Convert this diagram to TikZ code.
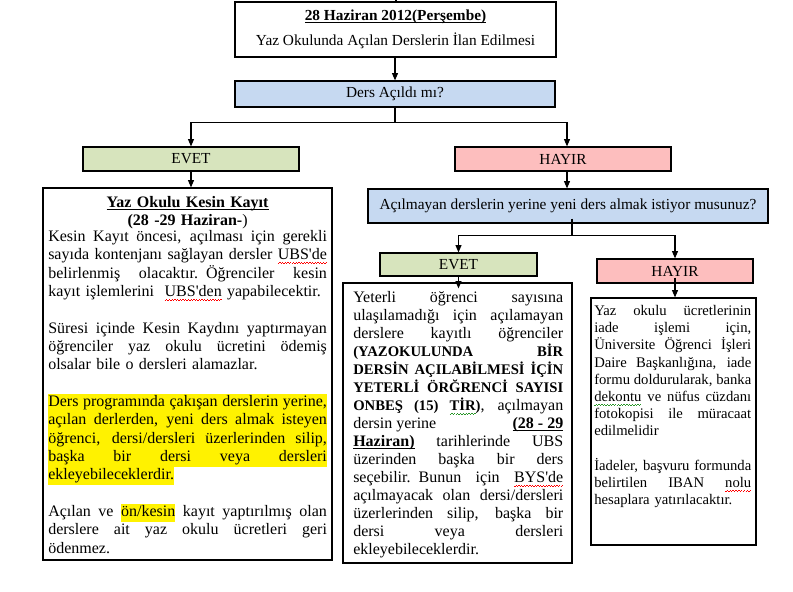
\documentclass[tikz,border=0pt]{standalone}
\usepackage{fontspec}
\setmainfont{Liberation Serif}[Ligatures=TeXOff]
\usetikzlibrary{arrows.meta}
\definecolor{boxblue}{RGB}{198,217,241}
\definecolor{boxgreen}{RGB}{215,228,189}
\definecolor{boxpink}{RGB}{253,190,190}
\definecolor{wavegreen}{RGB}{40,150,40}
\setlength{\parindent}{0pt}
\setlength{\parskip}{0pt}
\setlength{\fboxsep}{0pt}
\newsavebox{\wavetmp}
\newcommand\wavy[2]{\leavevmode\sbox{\wavetmp}{#2}%
  \rlap{\hbox to\wd\wavetmp{\color{#1}\xleaders\hbox{\rule[-2.9pt]{1pt}{0.55pt}\rule[-2.35pt]{1pt}{0.55pt}}\hfil}}\usebox{\wavetmp}}
\newcommand\redwave[1]{\wavy{red}{#1}}
\newcommand\greenwave[1]{\wavy{wavegreen}{#1}}
\newcommand\ul[1]{\leavevmode\sbox{\wavetmp}{#1}\rlap{\rule[-1.7pt]{\wd\wavetmp}{0.65pt}}\usebox{\wavetmp}}
\newcommand\jsp{\spaceskip=0.25em plus 1fil minus 0.06em\relax}
\newcommand\J[1]{{\jsp\makebox[\hsize][s]{#1}}\par}
\newcommand\E[1]{#1\par}
\newcommand\C[1]{\makebox[\hsize][c]{#1}\par}
\newcommand\HJ[1]{{\jsp\colorbox{yellow}{\makebox[\hsize][s]{\strut#1}}}\par}
\newcommand\HL[1]{\colorbox{yellow}{\strut#1}}
\newcommand\smb[1]{{\fontsize{11}{13.5}\selectfont\textbf{#1}}}
\begin{document}
\begin{tikzpicture}[x=0.75pt,y=-0.75pt,
  box/.style={draw=black,line width=0.9pt,inner sep=0pt,anchor=center},
  lbl/.style={box,font=\fontsize{11.5}{13}\selectfont},
  conn/.style={line width=0.8pt},
  arr/.style={conn,-{Triangle[length=5.5pt,width=4.5pt]}},
  body/.style={anchor=north west,inner sep=0pt}]
\fill[white] (0,0) rectangle (793,592);
\useasboundingbox (0,0) rectangle (793,592);

% boxes
\node[box,minimum width=240.75pt,minimum height=41.25pt,align=center,
      font=\fontsize{11.5}{18.75}\selectfont] (title) at (395.5,29.5)
  {\textbf{\ul{28 Haziran 2012(Perşembe)}}\\Yaz Okulunda Açılan Derslerin İlan Edilmesi};
\node[lbl,fill=boxblue,minimum width=240pt,minimum height=19.5pt] (ders) at (395,94) {Ders Açıldı mı?};
\node[lbl,fill=boxgreen,minimum width=162pt,minimum height=18pt] (evet1) at (191,159) {EVET};
\node[lbl,fill=boxpink,minimum width=162pt,minimum height=18pt] (hayir1) at (563,159) {HAYIR};
\node[box,minimum width=216.75pt,minimum height=279pt] (leftbox) at (187.5,374) {};
\node[lbl,fill=boxblue,minimum width=300pt,minimum height=25.5pt] (acil) at (568,206)
  {Açılmayan derslerin yerine yeni ders almak istiyor musunuz?};
\node[lbl,fill=boxgreen,minimum width=117.75pt,minimum height=17.25pt] (evet2) at (458.5,264.5) {EVET};
\node[lbl,fill=boxpink,minimum width=117pt,minimum height=18pt] (hayir2) at (675,271) {HAYIR};
\node[box,minimum width=171.75pt,minimum height=210pt] (midbox) at (457.5,423) {};
\node[box,minimum width=123.75pt,minimum height=185.25pt] (rightbox) at (673.5,421.5) {};

% texts
\node[body,text width=209pt,font=\fontsize{12}{13.75}\selectfont] (lefttext) at (48,196.5) {%
\C{\textbf{\ul{Yaz Okulu Kesin Kayıt}}}\vspace{-0.8pt}
\C{\textbf{(28 -29 Haziran-})}\vspace{-1.4pt}
\J{Kesin Kayıt öncesi, açılması için gerekli}
\J{sayıda kontenjanı sağlayan dersler \redwave{UBS'de}}
\J{belirlenmiş olacaktır. Öğrenciler kesin}
\E{kayıt işlemlerini\ \ \redwave{UBS'den} yapabilecektir.}
\E{\mbox{}}
\J{Süresi içinde Kesin Kaydını yaptırmayan}
\J{öğrenciler yaz okulu ücretini ödemiş}
\E{olsalar bile o dersleri alamazlar.}
\E{\mbox{}}
\HJ{Ders programında çakışan derslerin yerine,}
\HJ{açılan derlerden, yeni ders almak isteyen}
\HJ{öğrenci, dersi/dersleri üzerlerinden silip,}
\HJ{başka bir dersi veya dersleri}
\E{\HL{ekleyebileceklerdir.}}
\E{\mbox{}}
\J{Açılan ve \HL{ön/kesin} kayıt yaptırılmış olan}
\J{derslere ait yaz okulu ücretleri geri}
\E{ödenmez.}};

\node[body,text width=157.5pt,font=\fontsize{12}{13.5}\selectfont] (midtext) at (353,291) {%
\J{Yeterli öğrenci sayısına}
\J{ulaşılamadığı için açılamayan}
\J{derslere kayıtlı öğrenciler}
\J{\smb{(YAZOKULUNDA BİR}}
\J{\smb{DERSİN AÇILABİLMESİ İÇİN}}
\J{\smb{YETERLİ ÖRĞRENCİ SAYISI}}
\J{\smb{ONBEŞ (15) \greenwave{TİR})}, açılmayan}
\J{dersin yerine\hskip 0pt plus 1fill\textbf{\ul{(28 - 29}}}
\J{\textbf{\ul{Haziran)}} tarihlerinde UBS}
\J{üzerinden başka bir ders}
\J{seçebilir. Bunun için \redwave{BYS'de}}
\J{açılmayacak olan dersi/dersleri}
\J{üzerlerinden silip, başka bir}
\J{dersi veya dersleri}
\E{ekleyebileceklerdir.}};

\node[body,text width=117.75pt,font=\fontsize{11}{12.9}\selectfont] (righttext) at (594,305) {%
\J{Yaz okulu ücretlerinin}
\J{iade işlemi için,}
\J{Üniversite Öğrenci İşleri}
\J{Daire Başkanlığına, iade}
\J{formu doldurularak, banka}
\J{\greenwave{dekontu} ve nüfus cüzdanı}
\J{fotokopisi ile müracaat}
\E{edilmelidir}
\E{\mbox{}}
\J{İadeler, başvuru formunda}
\J{belirtilen IBAN \redwave{nolu}}
\E{hesaplara yatırılacaktır.}};

% connectors
\coordinate (top0) at (396,0);
\draw[conn] (top0) -- (top0 |- title.north);
\draw[arr] (title.south -| ders.north) -- (ders.north);
\path (ders.south) ++(0,15) coordinate (s1);
\draw[conn] (ders.south) -- (s1);
\draw[arr] (s1) -| (evet1.north);
\path (hayir1.north) ++(4,0) coordinate (h1n);
\path (hayir1.south) ++(4,0) coordinate (h1s);
\draw[arr] (s1) -| (h1n);
\draw[arr] (h1s) -- (h1s |- acil.north);
\draw[arr] (evet1.south) -- (evet1.south |- leftbox.north);
\path (acil.south) ++(4,-5) coordinate (t2);
\path (t2) ++(0,17) coordinate (s2);
\draw[conn] (t2) -- (s2);
\draw[arr] (s2) -| (evet2.north);
\draw[arr] (s2) -| (hayir2.north);
\path (evet2.south |- midbox.north) ++(0,6) coordinate (m2);
\draw[arr] (evet2.south) -- (m2);
\path (hayir2.south) ++(0,-6) coordinate (t3);
\draw[arr] (t3) -- (t3 |- rightbox.north);
\end{tikzpicture}
\end{document}
